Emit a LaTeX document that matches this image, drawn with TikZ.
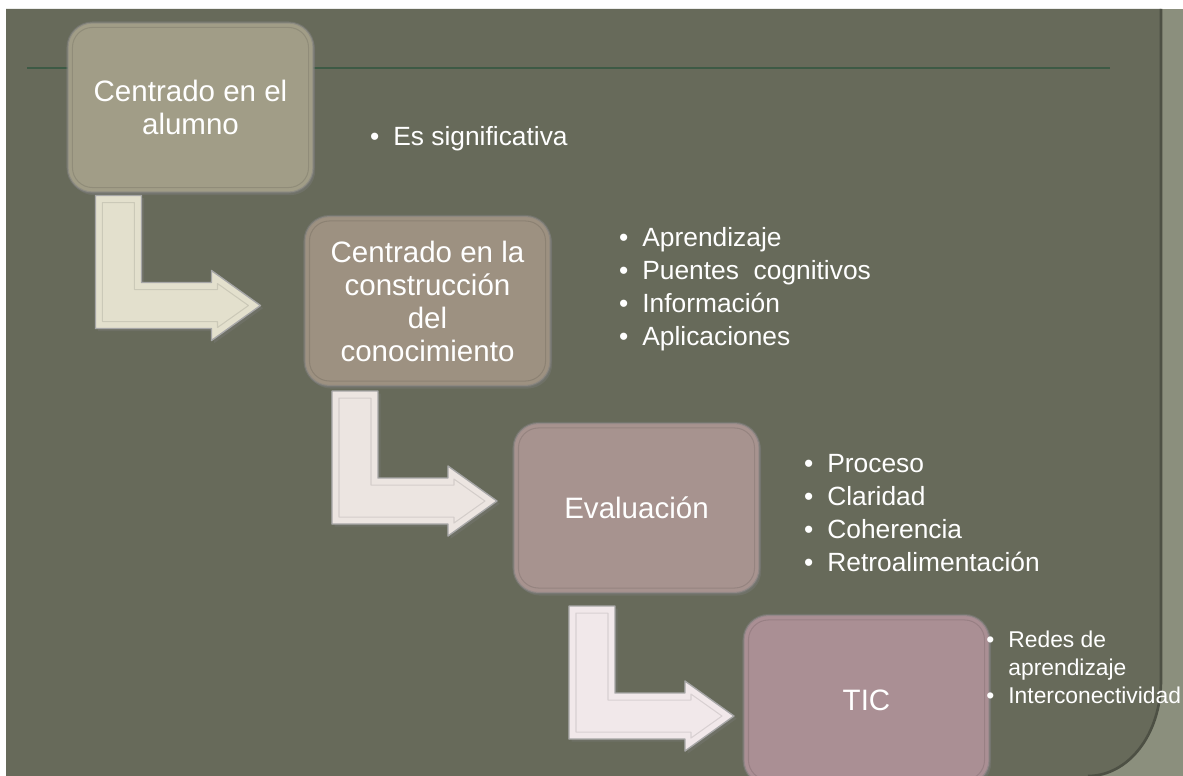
\documentclass[tikz,border=0pt]{standalone}
\usepackage{fontspec}
\setmainfont{Liberation Sans}
\usetikzlibrary{shadows}

\definecolor{slide}{HTML}{676A5A}
\definecolor{slideedge}{HTML}{8B8F7D}
\definecolor{ruleline}{HTML}{3D5A45}
\definecolor{boxa}{HTML}{A19D87}
\definecolor{boxb}{HTML}{9D9181}
\definecolor{boxc}{HTML}{A7938F}
\definecolor{boxd}{HTML}{AA8F94}
\definecolor{arrowa}{HTML}{E3E0CD}
\definecolor{arrowb}{HTML}{ECE5E1}
\definecolor{arrowc}{HTML}{F1E8EA}

\tikzset{
  stage/.style={draw=black!50, draw opacity=0.5, line width=1.2pt, rounded corners=0.5cm,
    minimum width=4.92cm, minimum height=3.4cm, align=center, text=white,
    font=\fontsize{16.8}{18.8}\selectfont,
    drop shadow={opacity=0.35, shadow xshift=1pt, shadow yshift=-1.5pt}},
  groove/.style={draw=black, draw opacity=0.1, line width=0.6pt, rounded corners=0.4cm},
  bulletitem/.style={anchor=base west, inner sep=0pt, text=white,
    font=\fontsize{15}{18}\selectfont,
    execute at begin node={\llap{\textbullet\hspace{0.28cm}}}},
  smallitem/.style={bulletitem, font=\fontsize{13}{16}\selectfont},
  nobullet/.style={anchor=base west, inner sep=0pt, text=white,
    font=\fontsize{13}{16}\selectfont},
  pics/larrow/.style={code={
    \draw[fill=#1, draw=black!35, line width=0.8pt, line join=round,
      drop shadow={opacity=0.3, shadow xshift=1.5pt, shadow yshift=-1.5pt}]
      (0,0) -- (46,0) -- (46,87) -- (116,87) -- (116,75) -- (165,110)
      -- (116,145) -- (116,133) -- (0,133) -- cycle;
    \draw[draw=black, draw opacity=0.1, line width=0.6pt, line join=round]
      (7,7) -- (39,7) -- (39,94) -- (122,94) -- (122,88) -- (153,110)
      -- (122,132) -- (122,126) -- (7,126) -- cycle;
  }}
}

\begin{document}
\begin{tikzpicture}[x=0.02cm, y=-0.02cm]
\useasboundingbox (0,0) rectangle (1183,776);
\clip (0,0) rectangle (1183,776);

% slide background
\fill[white] (0,0) rectangle (1183,776);
\fill[slideedge] (6,9) rectangle (1183,776);
\fill[slide] (6,9) -- (1161,9) -- (1161,680) .. controls (1161,735) and (1128,776) .. (1088,776) -- (6,776) -- cycle;
\draw[black!25!slide, line width=1.5pt] (1161,9) -- (1161,680) .. controls (1161,735) and (1128,776) .. (1088,776);
\draw[ruleline, line width=1.2pt] (27,68) -- (1110,68);

% stages
\node[stage, fill=boxa] (b1) at (190.5,107.5) {Centrado en el\\alumno};
\node[stage, fill=boxb] (b2) at (427.5,301) {Centrado en la\\construcción\\del\\conocimiento};
\node[stage, fill=boxc] (b3) at (636.5,508) {Evaluación};
\node[stage, fill=boxd] (b4) at (866.5,700) {TIC};

% bent arrows
\pic at ([shift={(29,2)}]b1.south west) {larrow=arrowa};
\pic at ([shift={(28.5,4)}]b2.south west) {larrow=arrowb};
\pic at ([shift={(56.5,12)}]b3.south west) {larrow=arrowc};

\foreach \b in {b1,b2,b3,b4}
  \draw[groove] ([shift={(6,-6)}]\b.south west) rectangle ([shift={(-6,6)}]\b.north east);

% lists
\node[bulletitem] (e1) at (393,146) {Es significativa};
\foreach \t [count=\i] in {Aprendizaje, Puentes\ \ cognitivos, Información, Aplicaciones}
  \node[bulletitem] (c\i) at (642,{247+32.7*(\i-1)}) {\t};
\foreach \t [count=\i] in {Proceso, Claridad, Coherencia, Retroalimentación}
  \node[bulletitem] (v\i) at (827,{473+32.8*(\i-1)}) {\t};
\node[smallitem] (t1) at (1008,647) {Redes de};
\node[nobullet] (t2) at (1008,675) {aprendizaje};
\node[smallitem] (t3) at (1008,703) {Interconectividad};
\end{tikzpicture}
\end{document}
